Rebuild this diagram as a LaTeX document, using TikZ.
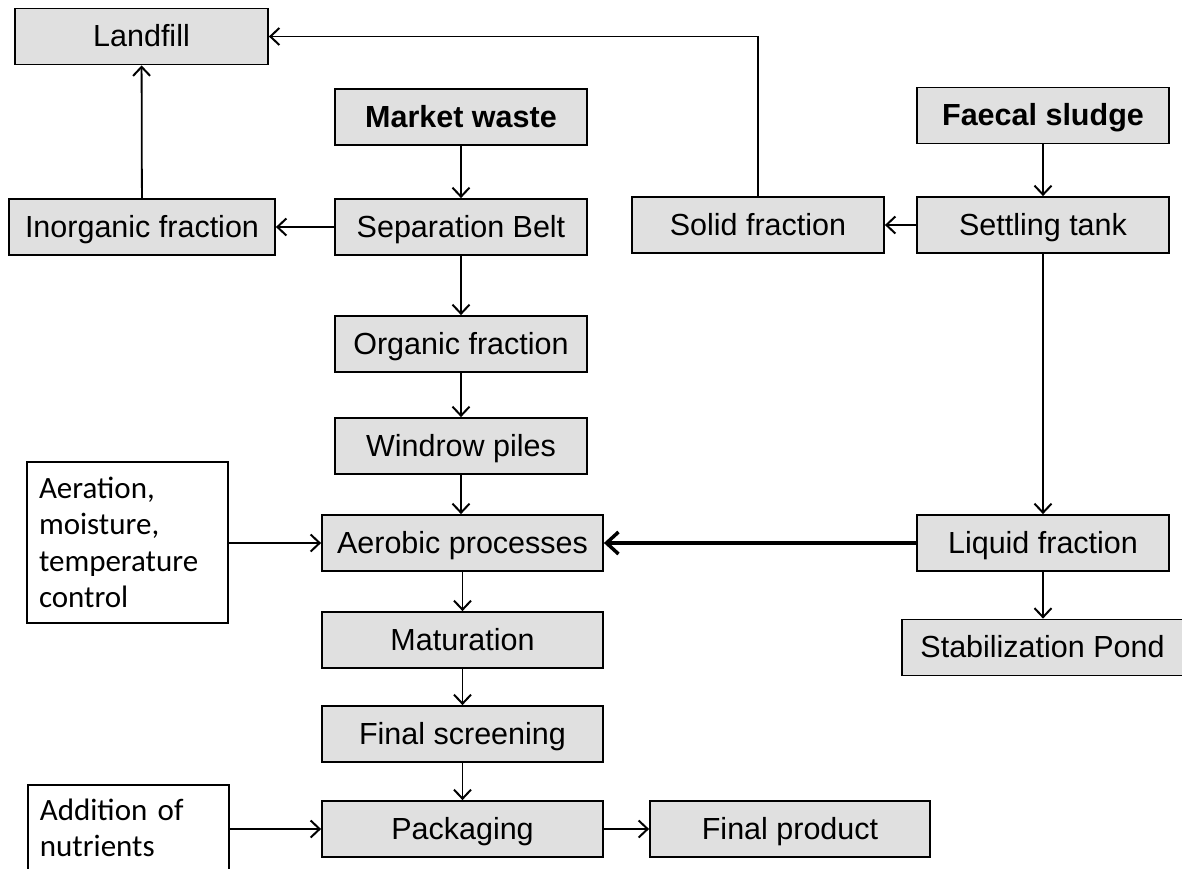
\documentclass[tikz,border=0pt]{standalone}
\usepackage{fontspec}
\setmainfont{Liberation Sans}
\newfontfamily\calfont{Carlito}
\usetikzlibrary{arrows.meta}
\definecolor{boxgray}{RGB}{224,224,224}
\begin{document}
\begin{tikzpicture}[x=1pt,y=-1pt,
  box/.style={draw, line width=1.8pt, fill=boxgray, inner sep=0pt,
    minimum height=56pt, text height=22pt, text depth=2pt,
    font=\fontsize{30.5}{36}\selectfont},
  boldbox/.style={box, font=\fontsize{30.5}{36}\selectfont\bfseries},
  notebox/.style={draw, line width=1.8pt, fill=white, inner xsep=12pt,
    align=left, font=\calfont\fontsize{31}{36.5}\selectfont},
  arr/.style={line width=1.8pt, -{Straight Barb[length=9pt,width=17pt,line width=2pt]}},
  thickarr/.style={line width=4pt, -{Straight Barb[length=12pt,width=22pt,line width=3.5pt]}}
]
\useasboundingbox (0,0) rectangle (1182,868);

% left / centre column
\node[box, minimum width=253pt] (landfill) at (141.5,36.5) {Landfill};
\node[boldbox, minimum width=252pt] (market) at (461,117) {Market waste};
\node[box, minimum width=266pt] (inorg) at (142,227) {Inorganic fraction};
\node[box, minimum width=252pt] (sep) at (461,227) {Separation Belt};
\node[box, minimum width=252pt] (organic) at (461,344) {Organic fraction};
\node[box, minimum width=252pt] (windrow) at (461,446) {Windrow piles};
\node[box, minimum width=281pt] (aerobic) at (462.5,543) {Aerobic processes};
\node[box, minimum width=281pt] (matur) at (462.5,640) {Maturation};
\node[box, minimum width=281pt] (screen) at (462.5,734) {Final screening};
\node[box, minimum width=281pt] (pack) at (462.5,829) {Packaging};
\node[box, minimum width=280pt] (product) at (790,829) {Final product};

% right column
\node[boldbox, minimum width=252pt] (faecal) at (1043,115.5) {Faecal sludge};
\node[box, minimum width=252pt] (solid) at (758,225) {Solid fraction};
\node[box, minimum width=252pt] (settle) at (1043,225) {Settling tank};
\node[box, minimum width=252pt] (liquid) at (1043,543) {Liquid fraction};
\node[box, minimum width=281pt] (stab) at (1042.5,647.5) {Stabilization Pond};

% note boxes
\node[notebox, text width=177pt, minimum height=161pt] (aeration) at (127.5,542.5)
  {Aeration,\\moisture,\\temperature\\control};
\node[notebox, text width=177pt, inner ysep=14pt, anchor=north west] (addition) at (27,784)
  {Addition of\\nutrients};

% connectors
\draw[arr] (market) -- (sep);
\draw[arr] (sep) -- (inorg);
\draw[arr] (inorg) -- (landfill);
\draw[arr] (solid.north) |- (landfill.east);
\draw[arr] (faecal) -- (settle);
\draw[arr] (settle) -- (solid);
\draw[arr] (settle) -- (liquid);
\draw[arr] (sep) -- (organic);
\draw[arr] (organic) -- (windrow);
\draw[arr] (windrow.south) -- (windrow.south |- aerobic.north);
\draw[arr] (aeration.east |- aerobic.west) -- (aerobic.west);
\draw[thickarr] (liquid) -- (aerobic);
\draw[arr] (aerobic) -- (matur);
\draw[arr] (matur) -- (screen);
\draw[arr] (screen) -- (pack);
\draw[arr] (liquid.south) -- (liquid.south |- stab.north);
\draw[arr] (addition.east |- pack.west) -- (pack.west);
\draw[arr] (pack) -- (product);
\end{tikzpicture}
\end{document}
